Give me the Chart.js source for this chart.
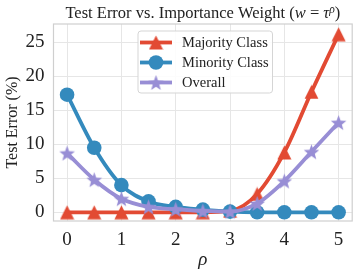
<!DOCTYPE html>
<html><head><meta charset="utf-8">
<script src="https://cdn.jsdelivr.net/npm/chart.js@4/dist/chart.umd.min.js"></script>
<style>html,body{margin:0;padding:0;background:#fff}#wrap{width:364px;height:273px}</style>
</head><body><div id="wrap"><canvas id="c" width="364" height="273"></canvas></div>
<script>
const rho = [0,0.5,1,1.5,2,2.5,3,3.5,4,4.5,5];
const majority = [0,0,0,0,0,0,0.2,2.7,8.8,17.7,26.2];
const minority = [17.3,9.5,4.0,1.6,0.8,0.4,0.1,0,0,0,0];
const overall = [8.7,4.8,2.0,0.8,0.45,0.2,0.1,1.3,4.6,8.9,13.2];
const seriesLabels = ['Majority Class','Minority Class','Overall'];
const xTicks = [0,1,2,3,4,5];
const yTicks = [0,5,10,15,20,25];

const RED='#E24A33', BLUE='#348ABD', PURPLE='#988ED5';
const SERIF='"Liberation Serif", "DejaVu Serif", serif';

function makeTriangle(color, s){
  const c=document.createElement('canvas'); c.width=c.height=s; const g=c.getContext('2d');
  g.fillStyle=color; g.beginPath(); g.moveTo(s/2,0.5); g.lineTo(s-0.5,s-0.5); g.lineTo(0.5,s-0.5); g.closePath(); g.fill(); return c;
}
function makeStar(color, s){
  const c=document.createElement('canvas'); c.width=c.height=s; const g=c.getContext('2d');
  const R=s/2-0.3, r=R*0.42, cx=s/2, cy=s/2+R*0.1;
  g.fillStyle=color; g.beginPath();
  for(let i=0;i<10;i++){const a=-Math.PI/2+i*Math.PI/5; const rr=i%2?r:R; g.lineTo(cx+rr*Math.cos(a), cy+rr*Math.sin(a));}
  g.closePath(); g.fill(); return c;
}
const triImg=makeTriangle(RED,15), starImg=makeStar(PURPLE,17);

const pts = arr => arr.map((v,i)=>({x:rho[i], y:v}));

const frame = {id:'frame', afterDraw(ch){const a=ch.chartArea,g=ch.ctx;g.save();g.strokeStyle='#cfcfcf';g.lineWidth=1.2;g.strokeRect(a.left,a.top,a.right-a.left,a.bottom-a.top);g.restore();}};

const titlePlug = {id:'ttl', afterDraw(ch){
  const g=ch.ctx, a=ch.chartArea; g.save();
  const fs=16.5;
  const parts=[
    {t:'Test Error vs. Importance Weight (', f:`${fs}px ${SERIF}`, dy:0},
    {t:'w', f:`italic ${fs}px ${SERIF}`, dy:0},
    {t:' = ', f:`${fs}px ${SERIF}`, dy:0},
    {t:'τ', f:`italic ${fs}px ${SERIF}`, dy:0},
    {t:'ρ', f:`italic ${fs*0.7}px ${SERIF}`, dy:-5.5},
    {t:')', f:`${fs}px ${SERIF}`, dy:0}];
  let w=0; parts.forEach(p=>{g.font=p.f; p.w=g.measureText(p.t).width; w+=p.w;});
  let x=(a.left+a.right)/2-w/2; const y=18;
  g.fillStyle='#222'; g.textBaseline='alphabetic'; g.textAlign='left';
  parts.forEach(p=>{g.font=p.f; g.fillText(p.t,x,y+p.dy); x+=p.w;});
  g.restore();
}};

const legendPlug = {id:'lgd', afterDraw(ch){
  const g=ch.ctx; g.save();
  const x0=138, y0=31, x1=272.5, y1=93;
  g.beginPath(); g.roundRect(x0,y0,x1-x0,y1-y0,3);
  g.fillStyle='rgba(255,255,255,0.85)'; g.fill(); g.strokeStyle='#d5d5d5'; g.lineWidth=1; g.stroke();
  ch.data.datasets.forEach((ds,i)=>{
    const y=42.5+i*20;
    g.strokeStyle=ds.borderColor; g.lineWidth=ds.borderWidth; g.lineCap='butt';
    g.beginPath(); g.moveTo(140,y); g.lineTo(172,y); g.stroke();
    const ps=ds.pointStyle;
    if(ps==='circle'){g.fillStyle=ds.borderColor; g.beginPath(); g.arc(156,y,ds.pointRadius,0,Math.PI*2); g.fill();}
    else g.drawImage(ps,156-ps.width/2,y-ps.height/2);
    g.fillStyle='#222'; g.font=`14.5px ${SERIF}`; g.textBaseline='middle'; g.textAlign='left';
    g.fillText(ds.label,182,y+1);
  });
  g.restore();
}};

new Chart(document.getElementById('c'), {
  type:'line',
  data:{datasets:[
    {label:seriesLabels[0], data:pts(majority), borderColor:RED, backgroundColor:RED, borderWidth:3.8, pointStyle:triImg, pointRadius:7, order:3},
    {label:seriesLabels[1], data:pts(minority), borderColor:BLUE, backgroundColor:BLUE, borderWidth:3.8, pointStyle:'circle', pointRadius:7.3, pointBorderWidth:0, order:2},
    {label:seriesLabels[2], data:pts(overall), borderColor:PURPLE, backgroundColor:PURPLE, borderWidth:3.8, pointStyle:starImg, pointRadius:8, order:1}
  ]},
  options:{
    responsive:false, animation:false, devicePixelRatio:1,
    cubicInterpolationMode:'monotone',
    layout:{padding:{top:24,right:6.5,left:0,bottom:0}},
    plugins:{legend:{display:false}, title:{display:false}, tooltip:{enabled:false}},
    scales:{
      x:{type:'linear', min:-0.25, max:5.25,
        afterBuildTicks:s=>{s.ticks=xTicks.map(v=>({value:v}));},
        afterFit:s=>{s.height=52;},
        grid:{color:'#e6e6e6', lineWidth:1, drawTicks:false},
        border:{display:false},
        ticks:{padding:8, color:'#222', font:{family:SERIF, size:19}},
        title:{display:true, text:'ρ', color:'#222', font:{family:SERIF, size:19, style:'italic'}, padding:{top:0,bottom:2}}
      },
      y:{type:'linear', min:-1.28, max:27.7,
        afterBuildTicks:s=>{s.ticks=yTicks.map(v=>({value:v}));},
        afterFit:s=>{s.width=53.5;},
        grid:{color:'#e6e6e6', lineWidth:1, drawTicks:false},
        border:{display:false},
        ticks:{padding:9, color:'#222', font:{family:SERIF, size:19}},
        title:{display:true, text:'Test Error (%)', color:'#222', font:{family:SERIF, size:16}, padding:{top:3,bottom:0}}
      }
    }
  },
  plugins:[frame,titlePlug,legendPlug]
});
</script></body></html>
